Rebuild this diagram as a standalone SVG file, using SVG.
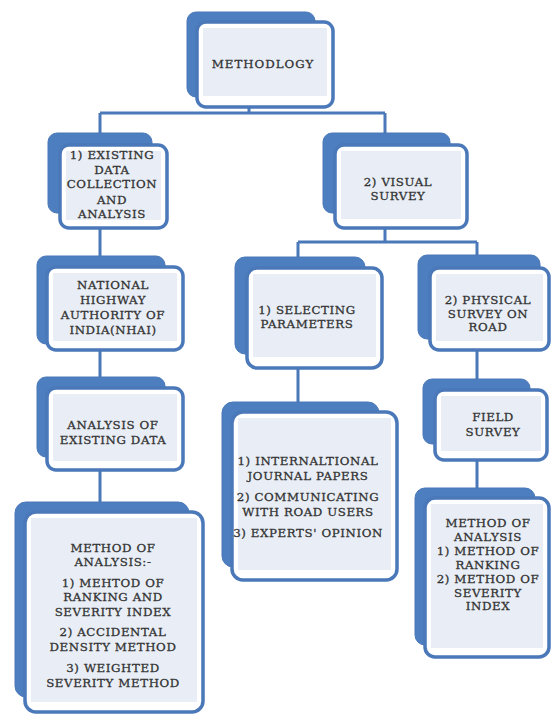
<svg xmlns="http://www.w3.org/2000/svg" width="552" height="716" viewBox="0 0 552 716">
<style>
.back{fill:#4d7ebf;stroke:#4a78b8;stroke-width:1}
.front{fill:#ffffff;stroke:#4a78b8;stroke-width:3.5}
.inner{fill:#e9eef6}
.t{font-family:"DejaVu Serif","Liberation Serif",serif;font-size:11.8px;fill:#333333;stroke:#333333;stroke-width:0.3;text-anchor:middle;letter-spacing:0.6px}
.c{stroke:#4a78b8;stroke-width:3;fill:none}
</style>
<rect width="552" height="716" fill="#ffffff"/>
<g id="connectors">
<path class="c" d="M249,107 V113 M100,113 H385 M100,113 V133 M385,113 V133"/>
<path class="c" d="M100,228 V256 M100,350 V377 M100,470 V502"/>
<path class="c" d="M385,228 V242 M298,242 H477 M298,242 V257 M477,242 V255"/>
<path class="c" d="M298,368 V402 M477,350 V379 M477,460 V488"/>
</g>
<g id="methodology">
<rect class="back" x="187" y="12" width="128" height="85" rx="9"/>
<rect class="front" x="197" y="22" width="136" height="85" rx="9"/>
<rect class="inner" x="203" y="28" width="124" height="68"/>
<text class="t" x="263" y="68" style="letter-spacing:1px">METHODLOGY</text>
</g>
<g id="existing">
<rect class="back" x="48" y="133" width="104" height="80" rx="9"/>
<rect class="front" x="60" y="145" width="107" height="83" rx="9"/>
<rect class="inner" x="66" y="151" width="95" height="69"/>
<text class="t" x="112" y="159">1) EXISTING</text>
<text class="t" x="112" y="174">DATA</text>
<text class="t" x="112" y="188">COLLECTION</text>
<text class="t" x="112" y="204">AND</text>
<text class="t" x="112" y="218">ANALYSIS</text>
</g>
<g id="visual">
<rect class="back" x="323" y="133" width="127" height="80" rx="9"/>
<rect class="front" x="335" y="145" width="132" height="83" rx="9"/>
<rect class="inner" x="341" y="151" width="120" height="68"/>
<text class="t" x="398" y="186">2) VISUAL</text>
<text class="t" x="398" y="199.5">SURVEY</text>
</g>
<g id="nhai">
<rect class="back" x="37" y="256" width="128" height="88" rx="9"/>
<rect class="front" x="47" y="267" width="136" height="83" rx="9"/>
<rect class="inner" x="53" y="273" width="124" height="68"/>
<text class="t" x="113" y="289">NATIONAL</text>
<text class="t" x="113" y="304">HIGHWAY</text>
<text class="t" x="113" y="319">AUTHORITY OF</text>
<text class="t" x="113" y="334">INDIA(NHAI)</text>
</g>
<g id="analysis-existing">
<rect class="back" x="37" y="377" width="128" height="80" rx="9"/>
<rect class="front" x="47" y="388" width="136" height="82" rx="9"/>
<rect class="inner" x="53" y="394" width="124" height="67"/>
<text class="t" x="113" y="429">ANALYSIS OF</text>
<text class="t" x="113" y="444">EXISTING DATA</text>
</g>
<g id="method-left">
<rect class="back" x="15" y="502" width="174" height="195" rx="11"/>
<rect class="front" x="25" y="512" width="178" height="200" rx="11"/>
<rect class="inner" x="31" y="518" width="166" height="184"/>
<text class="t" x="113" y="552">METHOD OF</text>
<text class="t" x="113" y="566">ANALYSIS:-</text>
<text class="t" x="113" y="587">1) MEHTOD OF</text>
<text class="t" x="113" y="601">RANKING AND</text>
<text class="t" x="113" y="616">SEVERITY INDEX</text>
<text class="t" x="113" y="636">2) ACCIDENTAL</text>
<text class="t" x="113" y="651">DENSITY METHOD</text>
<text class="t" x="113" y="672">3) WEIGHTED</text>
<text class="t" x="113" y="687">SEVERITY METHOD</text>
</g>
<g id="selecting">
<rect class="back" x="235" y="257" width="130" height="97" rx="10"/>
<rect class="front" x="247" y="268" width="135" height="100" rx="10"/>
<rect class="inner" x="253" y="274" width="123" height="83"/>
<text class="t" x="307" y="314">1) SELECTING</text>
<text class="t" x="307" y="327.5">PARAMETERS</text>
</g>
<g id="physical">
<rect class="back" x="418" y="255" width="122" height="84" rx="9"/>
<rect class="front" x="430" y="268" width="119" height="82" rx="9"/>
<rect class="inner" x="436" y="274" width="107" height="67"/>
<text class="t" x="488" y="304">2) PHYSICAL</text>
<text class="t" x="488" y="317.5">SURVEY ON</text>
<text class="t" x="488" y="331">ROAD</text>
</g>
<g id="journal">
<rect class="back" x="222" y="402" width="157" height="165" rx="11"/>
<rect class="front" x="232" y="412" width="165" height="168" rx="11"/>
<rect class="inner" x="238" y="418" width="153" height="152"/>
<text class="t" x="308" y="465">1) INTERNALTIONAL</text>
<text class="t" x="308" y="480">JOURNAL PAPERS</text>
<text class="t" x="308" y="501">2) COMMUNICATING</text>
<text class="t" x="308" y="516">WITH ROAD USERS</text>
<text class="t" x="308" y="537">3) EXPERTS' OPINION</text>
</g>
<g id="field">
<rect class="back" x="423" y="379" width="107" height="65" rx="9"/>
<rect class="front" x="435" y="390" width="112" height="70" rx="9"/>
<rect class="inner" x="441" y="396" width="100" height="55"/>
<text class="t" x="493" y="421">FIELD</text>
<text class="t" x="493" y="436">SURVEY</text>
</g>
<g id="method-right">
<rect class="back" x="415" y="488" width="120" height="157" rx="10"/>
<rect class="front" x="425" y="498" width="124" height="159" rx="10"/>
<rect class="inner" x="431" y="504" width="112" height="144"/>
<text class="t" x="488" y="527">METHOD OF</text>
<text class="t" x="488" y="540.5">ANALYSIS</text>
<text class="t" x="488" y="555">1) METHOD OF</text>
<text class="t" x="488" y="568.5">RANKING</text>
<text class="t" x="488" y="583">2) METHOD OF</text>
<text class="t" x="488" y="596.5">SEVERITY</text>
<text class="t" x="488" y="610">INDEX</text>
</g>
</svg>
